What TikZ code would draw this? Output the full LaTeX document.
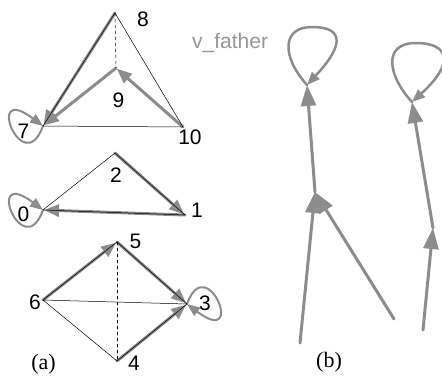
\documentclass[tikz,border=0pt]{standalone}
\usepackage{fontspec}
\setmainfont{Liberation Serif}
\setsansfont{Liberation Sans}
\usepackage{xcolor}
\usetikzlibrary{arrows.meta}
\definecolor{fgray}{RGB}{140,140,140}
\definecolor{tgray}{RGB}{150,150,150}
\tikzset{
  every picture/.style={line join=round, line cap=round, >=Stealth},
  num/.style={font=\sffamily\fontsize{21}{24}\selectfont, inner sep=0pt},
  sublbl/.style={font=\fontsize{22}{26}\selectfont, inner sep=0pt},
  tri/.style={draw=black, line width=0.5pt},
  hid/.style={tri, dashed},
  fa/.style={draw=fgray, line width=3pt, shorten >=1pt, -{Triangle[length=15pt,width=12pt]}},
  fb/.style={draw=fgray, line width=3pt, -{Triangle[length=21pt,width=15pt]}},
  floop/.style={draw=fgray, line width=2pt, -{Triangle[length=13pt,width=10pt]}},
}

\begin{document}
\begin{tikzpicture}[x=1pt,y=1pt]
\useasboundingbox (0,0) rectangle (442,376);
\clip (0,0) rectangle (442,376);
% (a) first tree
\coordinate (v7) at (43,250);
\coordinate (v8) at (115,363);
\coordinate (v9) at (116,308);
\coordinate (v10) at (183,249);
\draw[fa] (v8)--(v7);
\draw[fa] (v9)--(v7);
\draw[fa] (v10)--(v9);
\draw[floop] (v7) .. controls (23,195) and (-17,295) .. (v7);
\draw[tri] (v7)--(v8)--(v10)--cycle;
\draw[hid] (v8)--(v9);
\node[num] (l8) at (143,356.5) {8};
\node[num] (l9) at (118.5,276) {9};
\node[num] (l7) at (23.5,244.5) {7};
\node[num] (l10) at (190,238.5) {10};
% (a) second tree
\coordinate (v0) at (43,166);
\coordinate (v1) at (185,161);
\coordinate (v2) at (115,223);
\draw[fa] (v2)--(v1);
\draw[fa] (v1)--(v0);
\draw[floop] (v0) .. controls (23,111) and (-17,211) .. (v0);
\draw[tri] (v0)--(v2)--(v1)--cycle;
\node[num] (l2) at (116,201) {2};
\node[num] (l0) at (23.5,161.5) {0};
\node[num] (l1) at (197,165.5) {1};
% (a) third tree
\coordinate (v3) at (187,72);
\coordinate (v4) at (117,15);
\coordinate (v5) at (117,134);
\coordinate (v6) at (43,76);
\draw[fa] (v6)--(v5);
\draw[fa] (v5)--(v3);
\draw[fa] (v4)--(v3);
\draw[floop] (v3) .. controls (207,127) and (247,27) .. (v3);
\draw[tri] (v6)--(v5)--(v3)--(v4)--cycle;
\draw[tri] (v6)--(v3);
\draw[hid] (v5)--(v4);
\node[num] (l5) at (135.5,134.5) {5};
\node[num] (l6) at (35,73.5) {6};
\node[num] (l3) at (205,72.5) {3};
\node[num] (l4) at (134,12.5) {4};
\node[sublbl] (capa) at (43.5,12) {(a)};
% (b) father pointers
\node[num, text=tgray, anchor=base west] (vf) at (192,328) {v\_father};
\coordinate (P) at (307,291);
\coordinate (Q) at (315,184);
\coordinate (S) at (412,274);
\coordinate (R) at (433,148);
\coordinate (B1) at (300,33);
\coordinate (B2) at (394,57);
\coordinate (B3) at (423,46);
\coordinate (pTop) at (312,349);
\coordinate (sTop) at (416,333);
\draw[fb] (B1)--(Q);
\draw[fb] (B2)--(Q);
\draw[fb] (Q)--(P);
\draw[fb] (B3)--(R);
\draw[fb] (R)--(S);
\draw[floop, line width=2.5pt] (P) .. controls (281,320) and (282,349) .. (pTop)
  .. controls (340,349) and (348,335) .. (P);
\draw[floop, line width=2.5pt] (S) .. controls (388,300) and (382,333) .. (sTop)
  .. controls (448,333) and (456,314) .. (S);
\node[sublbl] (capb) at (329,14) {(b)};
\end{tikzpicture}
\end{document}
